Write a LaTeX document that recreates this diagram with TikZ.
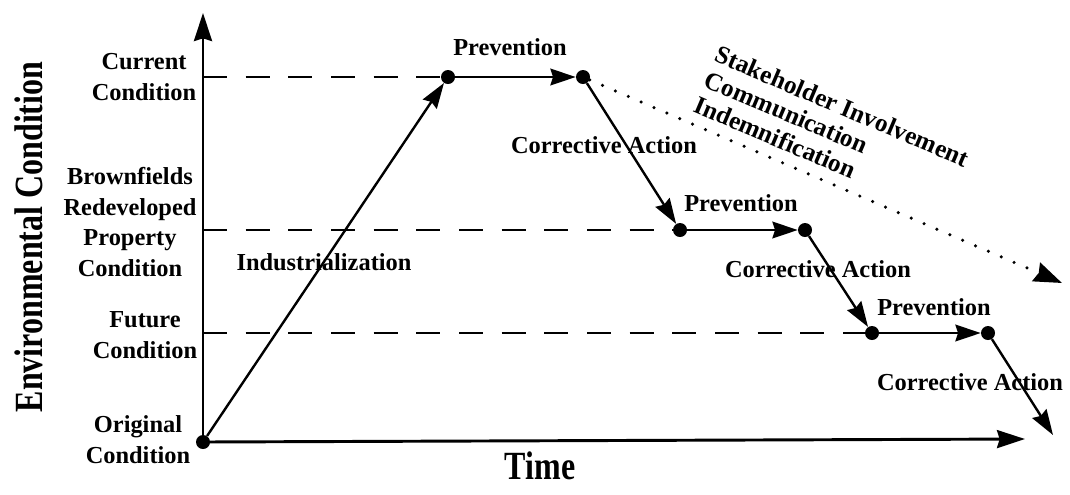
\documentclass[tikz,border=0pt]{standalone}
\usepackage{fontspec}
\setmainfont{Liberation Serif}
\usetikzlibrary{arrows.meta}
\begin{document}
\begin{tikzpicture}[x=0.75pt,y=-0.75pt,
  font=\fontsize{18.3}{23.2}\selectfont\bfseries,
  lbl/.style={align=center,inner sep=0pt},
  big/.style={inner sep=0pt,font=\fontsize{30}{30}\selectfont\bfseries},
  dot/.style={circle,fill,inner sep=0pt,minimum size=10.5pt},
  axis/.style={line width=2.2pt,-{Stealth[length=21pt,width=13.5pt,inset=2pt]}},
  level/.style={line width=2.2pt,dash pattern=on 18pt off 14pt},
  stage/.style={line width=1.8pt,-{Stealth[length=19pt,width=12.5pt,inset=2pt]}},
  trendline/.style={line width=2.6pt,line cap=round,dash pattern=on 0pt off 10.5pt,
    -{Stealth[length=21pt,width=15pt,inset=2pt]}}]
\useasboundingbox (0,0) rectangle (1070,494);
% axis titles
\node[big,rotate=90] (ylabel) at (29,237) {\scalebox{0.8}[1]{Environmental Condition}};
\node[big] (xlabel) at (540,466) {\scalebox{0.8}[1]{Time}};
% levels
\node[lbl] (curlbl) at (144,77) {Current\\Condition};
\node[lbl] (brolbl) at (130,222) {Brownfields\\Redeveloped\\Property\\Condition};
\node[lbl] (futlbl) at (145,335) {Future\\Condition};
\node[lbl] (origlbl) at (138,440) {Original\\Condition};
% stage labels
\node[lbl] (indlbl) at (324,262) {Industrialization};
\node[lbl] (prev1) at (510,47) {Prevention};
\node[lbl] (prev2) at (741,203) {Prevention};
\node[lbl] (prev3) at (934,307) {Prevention};
\node[lbl] (corr1) at (604,145) {Corrective Action};
\node[lbl] (corr2) at (818,269) {Corrective Action};
\node[lbl] (corr3) at (970,382) {Corrective Action};
\node[lbl,align=left,rotate=-23,anchor=west,font=\fontsize{19}{20.5}\selectfont\bfseries]
  (trendlbl) at (706,78) {Stakeholder Involvement\\Communication\\Indemnification};
% points
\node[dot] (orig) at (203,442) {};
\node[dot] (cur1) at (448,77) {};
\node[dot] (cur2) at (583,77) {};
\node[dot] (bro1) at (680,230) {};
\node[dot] (bro2) at (805,230) {};
\node[dot] (fut1) at (872,333) {};
\node[dot] (fut2) at (988,333) {};
\coordinate (ytop) at (203,13);
\coordinate (xend) at (1025,439);
\coordinate (last) at (1053,435);
\coordinate (trend) at (1062,283);
\draw[axis] (orig.center) -- (ytop);
\draw[axis] (orig.center) -- (xend);
\draw[level] (orig.center |- cur1) -- (cur1);
\draw[level] (orig.center |- bro1) -- (bro1);
\draw[level] (orig.center |- fut1) -- (fut1);
\draw[stage] (orig) -- (cur1);
\draw[stage] (cur1) -- (cur2);
\draw[stage] (cur2) -- (bro1);
\draw[stage] (bro1) -- (bro2);
\draw[stage] (bro2) -- (fut1);
\draw[stage] (fut1) -- (fut2);
\draw[stage] (fut2) -- (last);
\draw[trendline] (cur2) -- (trend);
\end{tikzpicture}
\end{document}
